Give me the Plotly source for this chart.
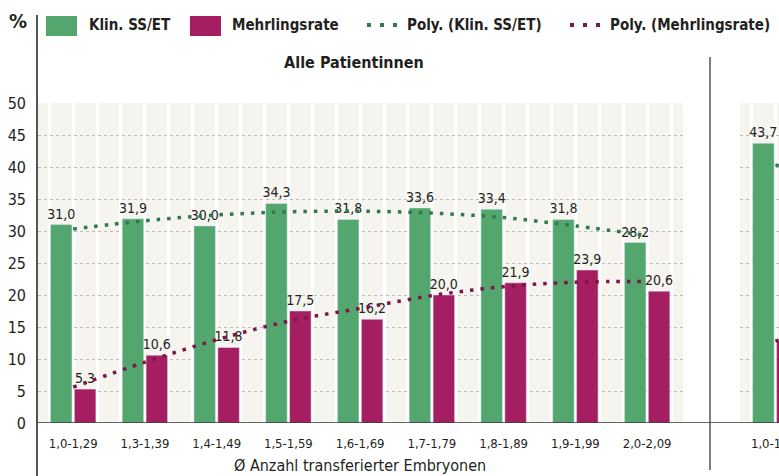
import plotly.graph_objects as go

W, H = 779, 476
FONT = "Liberation Sans Narrow, DejaVu Sans Condensed, Roboto, sans-serif"

# --- data ---------------------------------------------------------------
categories = ["1,0-1,29", "1,3-1,39", "1,4-1,49", "1,5-1,59", "1,6-1,69",
              "1,7-1,79", "1,8-1,89", "1,9-1,99", "2,0-2,09"]
klin_ss_et = [31.0, 31.9, 30.8, 34.3, 31.8, 33.6, 33.4, 31.8, 28.2]
klin_labels = ["31,0", "31,9", "30,0", "34,3", "31,8", "33,6", "33,4", "31,8", "28,2"]
mehrlingsrate = [5.3, 10.6, 11.8, 17.5, 16.2, 20.0, 21.9, 23.9, 20.6]
mehr_labels = ["5,3", "10,6", "11,8", "17,5", "16,2", "20,0", "21,9", "23,9", "20,6"]
poly_klin = [30.3, 31.6, 32.5, 33.0, 33.1, 32.8, 32.1, 30.8, 29.3]
poly_mehr = [5.6, 9.5, 13.0, 15.9, 17.9, 19.9, 21.3, 22.0, 22.1]

# second panel, cut off at the right edge of the picture
right_categories = ["1,0-1,29", "1,3-1,39"]
right_klin = [43.7]
right_klin_labels = ["43,7"]
right_mehr = [12.8]
right_mehr_labels = ["12,8"]
right_poly_klin = [40.3, 38.5]
right_poly_mehr = [12.8, 16.0]

y_ticks = [0, 5, 10, 15, 20, 25, 30, 35, 40, 45, 50]

GREEN = "#54a66f"
MAGENTA = "#a41e61"
GREEN_DOT = "#2f7a4c"
MAGENTA_DOT = "#7c1649"
BG = "#f5f4ef"
AXIS = "#555555"
TEXT = "#231f20"


def px(x):
    return x / W


def py(y):
    return 1 - y / H


fig = go.Figure()


def add_panel(xref, klin, klin_txt, mehr, mehr_txt, p_klin, p_mehr):
    xs = list(range(len(klin)))
    fig.add_trace(go.Bar(x=xs, y=klin, text=klin_txt, name="Klin. SS/ET",
                         marker_color=GREEN, xaxis=xref, yaxis="y",
                         textposition="outside", constraintext="none", cliponaxis=False,
                         textfont=dict(size=14, color=TEXT, family=FONT)))
    fig.add_trace(go.Bar(x=xs, y=mehr, text=mehr_txt, name="Mehrlingsrate",
                         marker_color=MAGENTA, xaxis=xref, yaxis="y",
                         textposition="outside", constraintext="none", cliponaxis=False,
                         textfont=dict(size=14, color=TEXT, family=FONT)))
    xt = list(range(len(p_klin)))
    fig.add_trace(go.Scatter(x=xt, y=p_klin, mode="lines", name="Poly. (Klin. SS/ET)",
                             xaxis=xref, yaxis="y",
                             line=dict(color=GREEN_DOT, width=3.5, dash="3.5px,7px", shape="spline")))
    fig.add_trace(go.Scatter(x=xt, y=p_mehr, mode="lines", name="Poly. (Mehrlingsrate)",
                             xaxis=xref, yaxis="y",
                             line=dict(color=MAGENTA_DOT, width=3.5, dash="3.5px,7px", shape="spline")))


add_panel("x", klin_ss_et, klin_labels, mehrlingsrate, mehr_labels, poly_klin, poly_mehr)
add_panel("x2", right_klin, right_klin_labels, right_mehr, right_mehr_labels,
          right_poly_klin, right_poly_mehr)

xaxis_style = dict(
    type="linear", showgrid=True, gridcolor="white", gridwidth=2.5,
    minor=dict(dtick=1 / 3, tick0=0, showgrid=True, gridcolor="white", gridwidth=2.5),
    zeroline=False, showline=False, ticks="", ticklabelstandoff=11,
    ticklabeloverflow="allow",
    tickfont=dict(size=13, color=TEXT, family=FONT), anchor="y", automargin=False,
)

fig.update_layout(
    width=W, height=H,
    margin=dict(l=0, r=0, t=0, b=0),
    paper_bgcolor="white", plot_bgcolor=BG,
    showlegend=False,
    barmode="group", bargap=1 / 3, bargroupgap=0.1,
    font=dict(family=FONT, color=TEXT),
    title=dict(text="<b>Alle Patientinnen</b>", x=px(354), xanchor="center",
               y=py(62), yanchor="middle", font=dict(size=16, color=TEXT, family=FONT)),
    xaxis=dict(domain=[px(38), px(683)], range=[-0.49, 8.5],
               tickvals=list(range(len(categories))), ticktext=categories, **xaxis_style),
    xaxis2=dict(domain=[px(740), 1], range=[-0.49, 0.05],
                tickvals=[0], ticktext=right_categories[:1], **xaxis_style),
    yaxis=dict(domain=[py(423), py(103)], range=[0, 50], tickvals=y_ticks,
               showgrid=True, gridcolor="#bdbdbd", gridwidth=1, griddash="dot",
               zeroline=False, showline=False, ticks="", ticklabelstandoff=11,
               tickfont=dict(size=16, color=TEXT, family=FONT), automargin=False),
)

# axis frame: left axis line, baseline, panel divider
fig.add_shape(type="line", xref="paper", yref="paper", x0=px(37), x1=px(37), y0=0, y1=py(15),
              line=dict(color=AXIS, width=2))
fig.add_shape(type="line", xref="paper", yref="y", x0=px(37), x1=1, y0=0, y1=0,
              line=dict(color="#333333", width=1.5))
fig.add_shape(type="line", xref="paper", yref="paper", x0=px(710), x1=px(710),
              y0=py(470), y1=py(57), line=dict(color=AXIS, width=1.5))

# x axis title
fig.add_annotation(text="Ø Anzahl transferierter Embryonen", xref="paper", yref="paper",
                   x=px(360), y=py(465), xanchor="center", yanchor="middle",
                   showarrow=False, font=dict(size=16, color=TEXT, family=FONT))
# unit label
fig.add_annotation(text="<b>%</b>", xref="paper", yref="paper", x=px(7), y=py(21),
                   xanchor="left", yanchor="middle", showarrow=False,
                   font=dict(size=20, color=TEXT, family=FONT))

# legend drawn by hand (big swatches and dotted samples)
legend_items = [
    ("rect", GREEN, 46, 77, "Klin. SS/ET", 87),
    ("rect", MAGENTA, 190, 221, "Mehrlingsrate", 230),
    ("dots", GREEN_DOT, 367, 399, "Poly. (Klin. SS/ET)", 405),
    ("dots", MAGENTA_DOT, 570, 602, "Poly. (Mehrlingsrate)", 608),
]
for kind, color, x0, x1, label, tx in legend_items:
    if kind == "rect":
        fig.add_shape(type="rect", xref="paper", yref="paper", x0=px(x0), x1=px(x1),
                      y0=py(36), y1=py(16), line_width=0, fillcolor=color)
    else:
        fig.add_shape(type="line", xref="paper", yref="paper", x0=px(x0), x1=px(x1),
                      y0=py(25), y1=py(25), line=dict(color=color, width=4, dash="4px,9px"))
    fig.add_annotation(text=f"<b>{label}</b>", xref="paper", yref="paper", x=px(tx), y=py(25),
                       xanchor="left", yanchor="middle", showarrow=False,
                       font=dict(size=15, color=TEXT, family=FONT))

# the page body has a default margin; remove it so the figure fills the window
fig.write_html("out.html", config={"displayModeBar": False},
               post_script="document.body.style.margin='0';")
